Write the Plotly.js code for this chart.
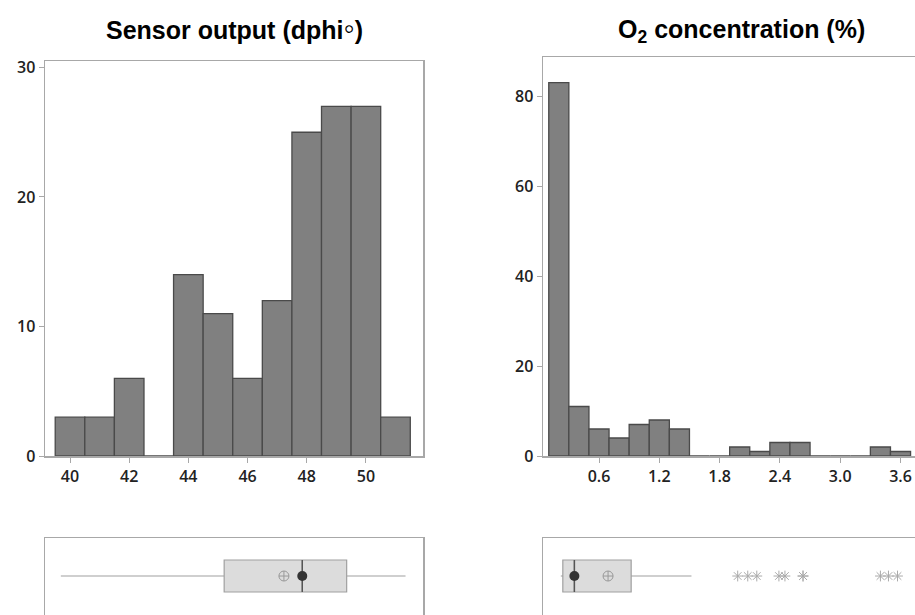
<!DOCTYPE html>
<html>
<head>
<meta charset="utf-8">
<script src="https://cdn.plot.ly/plotly-3.0.1.min.js"></script>
<style>
html, body { margin: 0; padding: 0; overflow: hidden; background: #fff; }
#chart { width: 940px; height: 650px; }
</style>
</head>
<body>
<div id="chart"></div>
<script>
// ---- Data ----
const sensorBins = [40, 41, 42, 43, 44, 45, 46, 47, 48, 49, 50, 51];
const sensorCounts = [3, 3, 6, 0, 14, 11, 6, 12, 25, 27, 27, 3];
const sensorBinWidth = 1;
const sensorTicks = [40, 42, 44, 46, 48, 50];

const o2Bins = [0.2, 0.4, 0.6, 0.8, 1.0, 1.2, 1.4, 1.6, 1.8, 2.0, 2.2, 2.4, 2.6, 2.8, 3.0, 3.2, 3.4, 3.6];
const o2Counts = [83, 11, 6, 4, 7, 8, 6, 0, 0, 2, 1, 3, 3, 0, 0, 0, 2, 1];
const o2BinWidth = 0.2;
const o2Ticks = [0.6, 1.2, 1.8, 2.4, 3.0, 3.6];
const o2TickText = ['0.6', '1.2', '1.8', '2.4', '3.0', '3.6'];

// box plot summaries
const sensorLower = 39.69, sensorQ1 = 45.21, sensorMedian = 47.85, sensorQ3 = 49.35, sensorUpper = 51.34, sensorMean = 47.23;
const o2Lower = 0.22, o2Q1 = 0.24, o2Median = 0.355, o2Q3 = 0.92, o2Upper = 1.52, o2Mean = 0.69;
const o2Outliers = [1.98, 2.08, 2.17, 2.39, 2.45, 2.63, 2.63, 3.40, 3.48, 3.57];

// ---- Styles ----
const barFill = '#808080', barLine = '#4a4a4a';
const frameColor = '#a8a8a8';
const tickFont = {family: 'Open Sans, Noto Sans, sans-serif', size: 16, color: '#222', weight: 600};
const boxHalf = 0.3;

const traces = [
  {type: 'bar', x: sensorBins, y: sensorCounts, width: sensorBinWidth,
   marker: {color: barFill, line: {color: barLine, width: 1.3}}, xaxis: 'x', yaxis: 'y'},
  {type: 'bar', x: o2Bins, y: o2Counts, width: o2BinWidth,
   marker: {color: barFill, line: {color: barLine, width: 1.3}}, xaxis: 'x2', yaxis: 'y2'},
  // sensor box
  {type: 'box', orientation: 'h', y: [0], q1: [sensorQ1], median: [sensorMedian], q3: [sensorQ3],
   lowerfence: [sensorLower], upperfence: [sensorUpper], width: 2 * boxHalf, whiskerwidth: 0,
   fillcolor: '#dcdcdc', line: {color: '#a0a0a0', width: 1.2}, boxpoints: false,
   xaxis: 'x3', yaxis: 'y3'},
  {type: 'scatter', mode: 'lines', x: [sensorMedian, sensorMedian], y: [-boxHalf, boxHalf],
   line: {color: '#555', width: 1.5}, xaxis: 'x3', yaxis: 'y3'},
  {type: 'scatter', mode: 'markers', x: [sensorMean], y: [0],
   marker: {symbol: 'circle-cross-open', size: 10, color: '#999', line: {width: 1}}, xaxis: 'x3', yaxis: 'y3'},
  {type: 'scatter', mode: 'markers', x: [sensorMedian], y: [0],
   marker: {symbol: 'circle', size: 10, color: '#333'}, xaxis: 'x3', yaxis: 'y3'},
  // o2 box
  {type: 'box', orientation: 'h', y: [0], q1: [o2Q1], median: [o2Median], q3: [o2Q3],
   lowerfence: [o2Lower], upperfence: [o2Upper], width: 2 * boxHalf, whiskerwidth: 0,
   fillcolor: '#dcdcdc', line: {color: '#a0a0a0', width: 1.2}, boxpoints: false,
   xaxis: 'x4', yaxis: 'y4'},
  {type: 'scatter', mode: 'lines', x: [o2Median, o2Median], y: [-boxHalf, boxHalf],
   line: {color: '#555', width: 1.5}, xaxis: 'x4', yaxis: 'y4'},
  {type: 'scatter', mode: 'markers', x: [o2Mean], y: [0],
   marker: {symbol: 'circle-cross-open', size: 10, color: '#999', line: {width: 1}}, xaxis: 'x4', yaxis: 'y4'},
  {type: 'scatter', mode: 'markers', x: [o2Median], y: [0],
   marker: {symbol: 'circle', size: 10, color: '#333'}, xaxis: 'x4', yaxis: 'y4'},
  {type: 'scatter', mode: 'markers', x: o2Outliers, y: o2Outliers.map(() => 0),
   marker: {symbol: 'asterisk-open', size: 9, color: '#aaa', line: {width: 1, color: '#aaa'}}, xaxis: 'x4', yaxis: 'y4'}
];

const W = 940, H = 650;
const px = v => v / W;
const py = v => 1 - v / H;

const frame = {showline: true, mirror: true, linecolor: frameColor, linewidth: 1.5,
  showgrid: false, zeroline: false, ticks: 'outside', ticklen: 5, tickcolor: frameColor,
  tickwidth: 1, tickfont: tickFont, fixedrange: true};
const boxFrame = {showline: true, mirror: true, linecolor: frameColor, linewidth: 1.5,
  showgrid: false, zeroline: false, ticks: '', showticklabels: false, fixedrange: true};

const layout = {
  width: W, height: H,
  margin: {l: 0, r: 0, t: 0, b: 0},
  paper_bgcolor: '#fff', plot_bgcolor: '#fff',
  showlegend: false, bargap: 0,
  xaxis: Object.assign({}, frame, {domain: [px(45), px(423)], range: [39.155, 51.93],
    tickvals: sensorTicks, anchor: 'y'}),
  yaxis: Object.assign({}, frame, {domain: [py(456), py(61)], range: [0, 30.5],
    tickvals: [0, 10, 20, 30], anchor: 'x'}),
  xaxis2: Object.assign({}, frame, {domain: [px(543), px(917)], range: [0.0428, 3.764],
    tickvals: o2Ticks, ticktext: o2TickText, anchor: 'y2'}),
  yaxis2: Object.assign({}, frame, {domain: [py(456), py(57)], range: [0, 88.7],
    tickvals: [0, 20, 40, 60, 80], anchor: 'x2'}),
  xaxis3: Object.assign({}, boxFrame, {domain: [px(45), px(423)], range: [39.155, 51.93], anchor: 'y3'}),
  yaxis3: Object.assign({}, boxFrame, {domain: [py(640), py(538)], range: [-1.2, 0.713], anchor: 'x3'}),
  xaxis4: Object.assign({}, boxFrame, {domain: [px(543), px(917)], range: [0.0428, 3.764], anchor: 'y4'}),
  yaxis4: Object.assign({}, boxFrame, {domain: [py(640), py(538)], range: [-1.2, 0.713], anchor: 'x4'}),
  annotations: [
    {xref: 'paper', yref: 'paper', x: px(234), y: py(28), xanchor: 'center', yanchor: 'middle',
     showarrow: false, text: '<b>Sensor output (dphi<span style="font-size:32px">◦</span>)</b>',
     font: {family: 'Liberation Sans, Arial, sans-serif', size: 25, color: '#000'}},
    {xref: 'paper', yref: 'paper', x: px(741), y: py(31), xanchor: 'center', yanchor: 'middle',
     showarrow: false, text: '<b>O<sub>2</sub> concentration (%)</b>',
     font: {family: 'Liberation Sans, Arial, sans-serif', size: 25, color: '#000'}}
  ]
};

Plotly.newPlot('chart', traces, layout, {displayModeBar: false, staticPlot: true});
</script>
</body>
</html>
